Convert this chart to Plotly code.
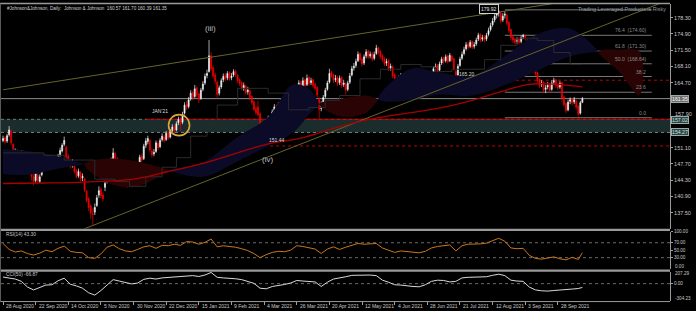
import plotly.graph_objects as go

W, H = 696, 311

# ---------------- price data (daily bars, index 0 = 28 Aug 2020) ----------------
opens = [152.6,153.2,152.5,153.8,154.6,151.8,149.4,150.4,149.6,148.4,
         150.2,149.0,148.4,147.3,146.2,145.0,144.2,145.4,144.0,145.4,
         146.8,147.2,148.6,149.2,147.8,147.4,148.9,147.8,149.6,150.4,
         151.8,151.2,149.3,148.2,147.4,147.8,146.3,145.2,145.9,144.8,
         144.6,142.0,140.4,138.9,137.3,137.6,139.0,141.2,142.4,141.2,
         142.8,144.0,146.4,147.6,148.4,149.8,148.8,147.0,146.6,145.8,
         146.0,144.4,143.6,144.2,143.5,144.3,146.3,147.8,149.3,148.8,
         151.6,152.4,152.6,150.4,149.8,150.3,152.0,151.3,152.8,153.3,
         152.8,154.3,153.3,154.7,155.6,154.8,156.3,157.2,156.4,158.3,
         160.2,159.7,161.3,162.6,161.8,163.6,162.3,161.4,163.3,164.6,
         166.2,167.0,170.3,167.8,166.3,164.8,162.5,163.8,165.3,166.2,
         165.7,166.8,165.7,166.3,167.1,166.2,165.3,164.7,163.4,164.0,
         162.8,163.0,161.8,160.7,159.3,159.6,158.2,156.3,154.0,153.4,
         156.7,157.3,156.6,158.8,159.8,158.7,160.3,160.8,159.7,160.3,
         159.3,160.8,161.3,160.3,161.3,163.7,164.8,163.7,165.3,164.3,
         165.8,164.7,165.3,164.3,163.7,161.4,159.3,160.3,161.8,163.3,
         164.8,166.8,166.3,165.3,165.8,164.7,165.8,164.3,164.4,163.3,
         164.8,166.3,167.8,168.3,169.3,170.8,169.7,168.8,170.3,171.3,
         170.3,170.8,169.8,170.8,172.0,171.2,170.3,169.7,168.8,169.3,
         167.8,168.0,166.3,165.4,164.8,165.8,166.3,165.3,164.3,165.3,
         164.8,165.3,164.3,163.3,164.3,163.8,164.8,164.3,165.3,164.8,
         166.3,165.3,167.8,168.3,167.3,168.8,169.8,169.3,170.3,169.3,
         170.2,169.7,167.0,166.3,168.3,169.8,170.8,171.8,172.8,172.3,
         173.3,172.3,172.8,173.8,174.8,173.8,174.3,173.8,174.8,175.8,
         176.8,177.8,178.8,179.3,179.3,177.8,178.8,178.8,177.3,175.8,
         174.3,173.8,173.3,173.8,173.3,174.3,174.4,173.6,171.8,170.3,
         168.8,167.8,166.8,165.3,164.3,164.8,163.3,163.8,164.3,163.3,
         164.8,165.3,164.3,163.8,164.7,161.7,160.3,159.0,160.8,161.3,
         160.7,160.9,159.8,158.3,160.57]
highs = [153.6,153.5,154.0,155.6,154.9,152.0,150.9,150.8,149.9,150.6,
         150.5,149.6,148.6,147.9,146.5,145.6,146.1,145.8,145.5,146.9,
         147.5,148.8,149.6,149.5,148.3,149.0,149.2,149.8,151.1,152.0,
         153.4,151.6,149.8,148.6,148.7,148.0,146.6,146.7,146.2,145.7,
         144.8,142.3,140.8,139.3,138.4,139.4,141.2,143.0,142.8,141.9,
         145.5,146.8,148.1,149.0,151.0,150.2,149.1,147.6,147.0,146.8,
         146.4,144.9,144.8,144.6,144.7,146.6,148.0,149.6,149.8,151.9,
         153.1,153.6,152.9,151.0,150.8,152.6,152.4,153.1,154.1,153.8,
         154.6,154.6,155.0,156.0,155.9,156.6,157.6,157.5,158.6,160.6,
         160.9,161.7,163.1,163.0,164.2,163.9,162.6,163.6,165.0,166.6,
         167.4,173.6,171.0,168.3,166.8,165.1,164.1,165.6,166.6,166.7,
         167.1,167.0,166.7,167.5,167.4,166.5,165.7,165.0,164.7,164.3,
         163.8,163.3,162.0,161.0,159.8,160.9,158.5,156.5,155.2,157.0,
         157.8,157.6,159.1,160.2,160.1,160.6,161.3,161.0,160.7,160.5,
         161.1,161.8,161.6,161.7,164.0,165.2,165.0,165.8,165.5,166.4,
         166.0,165.7,165.5,164.7,163.9,161.6,160.8,162.1,163.6,165.1,
         167.6,167.2,166.6,166.3,166.1,166.2,166.0,165.3,164.8,165.1,
         166.7,168.2,168.8,169.7,171.2,171.0,170.0,170.6,171.7,171.6,
         171.2,171.1,171.2,172.6,172.3,171.5,170.7,170.0,169.7,169.6,
         168.7,168.3,166.7,165.8,166.2,166.7,166.5,165.5,165.7,165.6,
         165.6,165.5,164.5,164.6,164.6,165.1,165.0,165.6,165.6,166.7,
         166.5,168.1,168.7,168.6,169.1,170.1,170.1,170.6,170.5,170.9,
         170.6,169.9,167.4,168.6,170.1,171.2,172.2,173.2,173.3,173.6,
         173.5,173.2,174.1,175.1,175.0,174.7,174.6,175.1,176.2,177.2,
         178.2,179.2,179.7,179.92,179.6,179.2,179.6,179.1,177.6,176.0,
         174.7,174.1,174.2,174.1,174.6,174.9,174.8,173.8,172.0,170.6,
         169.1,168.1,167.0,165.6,165.2,165.0,164.2,164.8,164.5,165.2,
         165.7,165.5,164.6,165.0,164.9,162.0,160.6,161.1,161.6,161.5,
         161.7,161.1,160.0,160.9,161.70]
lows = [152.2,151.8,152.1,153.4,151.6,148.8,148.9,149.0,147.9,148.1,
        148.7,147.8,146.6,146.1,144.2,143.2,143.8,143.6,143.7,145.1,
        146.5,146.9,148.0,147.6,146.4,147.1,147.2,147.5,149.2,150.1,
        151.4,148.5,147.6,146.7,146.9,145.6,144.6,144.8,144.0,144.1,
        141.8,139.6,137.8,136.2,134.8,137.0,138.7,140.6,140.5,139.8,
        142.0,143.6,145.9,147.0,148.0,148.1,146.8,145.8,145.2,145.2,
        144.1,142.7,143.0,142.8,143.0,144.0,145.9,147.4,148.0,148.5,
        151.0,151.8,150.2,149.0,149.3,150.0,150.6,151.0,152.4,152.1,
        152.5,152.7,153.0,154.3,154.1,154.5,155.8,154.6,156.0,158.0,
        158.9,159.3,160.9,161.0,161.5,161.6,160.4,161.1,162.9,164.2,
        165.6,166.8,167.1,165.6,164.3,161.4,162.0,163.4,164.8,165.0,
        165.2,165.1,165.2,165.9,165.9,164.6,164.0,163.1,163.0,162.1,
        162.2,161.1,160.0,158.7,157.9,157.6,155.6,153.4,151.44,152.8,
        156.1,155.9,156.3,158.4,158.0,158.4,159.8,159.1,159.2,158.7,
        159.0,160.3,159.7,159.9,161.0,163.3,163.0,163.4,163.6,164.0,
        164.0,164.2,163.6,163.0,161.6,157.2,158.7,160.0,161.4,163.0,
        164.5,165.6,164.6,164.8,164.0,164.2,163.6,163.8,162.2,162.9,
        164.4,166.0,167.2,167.8,169.0,169.0,168.1,168.4,169.8,169.6,
        169.8,169.1,169.4,170.5,170.5,169.6,169.0,168.1,168.2,167.1,
        167.2,165.6,165.0,164.1,164.4,165.2,164.7,163.6,163.9,164.1,
        164.3,163.6,162.2,162.8,163.1,163.4,163.6,164.0,164.1,164.5,
        164.7,165.0,167.2,166.7,167.0,168.4,168.6,168.9,168.7,169.0,
        169.0,167.2,165.2,166.0,168.0,169.4,170.4,171.4,171.6,171.9,
        171.7,171.8,172.4,173.4,173.1,173.3,173.1,173.4,174.4,175.4,
        176.4,177.3,178.1,178.5,177.1,177.4,178.1,176.6,175.1,173.6,
        173.0,172.6,172.8,172.6,172.9,173.8,173.5,171.1,169.6,168.1,
        167.1,166.1,164.6,163.6,163.8,162.6,162.5,163.3,162.6,163.0,
        164.3,163.6,163.1,163.4,160.8,159.6,158.3,158.7,160.2,159.9,
        160.2,159.1,157.2,158.0,160.39]
closes = [153.0,152.4,153.6,154.8,152.1,149.2,150.1,149.4,148.6,150.0,
          149.1,148.2,147.1,146.6,145.1,144.0,145.6,144.2,145.0,146.4,
          147.0,148.4,148.9,148.0,147.1,148.6,147.6,149.4,150.5,151.6,
          152.6,149.1,148.0,147.2,148.1,146.1,145.0,146.1,144.6,145.1,
          142.2,140.1,138.6,137.4,137.1,138.6,140.6,142.1,141.0,140.4,
          143.6,146.1,147.4,148.1,150.0,148.6,147.1,146.4,145.6,146.1,
          144.6,143.4,144.1,143.3,144.0,146.1,147.6,149.1,148.5,151.4,
          152.5,153.0,150.6,149.6,150.1,152.1,151.1,152.6,153.5,152.6,
          154.1,153.1,154.5,155.4,154.6,156.1,157.0,156.0,158.1,160.0,
          159.5,161.1,162.5,161.6,163.4,162.1,161.1,163.1,164.4,166.0,
          166.6,170.3,167.6,166.1,165.0,162.2,163.6,165.1,166.0,165.5,
          166.6,165.5,166.1,167.0,166.4,165.1,164.5,163.6,164.1,162.6,
          163.1,161.6,160.5,159.1,158.4,158.0,156.1,154.1,153.6,156.5,
          157.1,156.4,158.6,159.6,158.5,160.1,160.6,159.5,160.1,159.1,
          160.6,161.1,160.1,161.1,163.5,164.6,163.5,165.1,164.1,165.6,
          164.5,165.1,164.1,163.5,162.1,159.1,160.1,161.6,163.1,164.6,
          166.6,166.1,165.1,165.6,164.5,165.6,164.1,164.6,163.1,164.6,
          166.1,167.6,168.1,169.1,170.6,169.5,168.6,170.1,171.1,170.1,
          170.6,169.6,170.6,171.9,171.0,170.1,169.5,168.6,169.1,167.6,
          168.1,166.1,165.6,164.6,165.6,166.1,165.1,164.1,165.1,164.6,
          165.1,164.1,163.1,164.1,163.6,164.6,164.1,165.1,164.6,166.1,
          165.1,167.6,168.1,167.1,168.6,169.6,169.1,170.1,169.1,170.4,
          169.5,167.6,166.1,168.1,169.6,170.6,171.6,172.6,172.1,173.1,
          172.1,172.6,173.6,174.6,173.6,174.1,173.6,174.6,175.6,176.6,
          177.6,178.6,179.1,179.5,177.6,178.6,179.0,177.1,175.6,174.1,
          173.6,173.1,173.6,173.1,174.1,174.6,174.1,171.6,170.1,168.6,
          167.6,166.6,165.1,164.1,164.6,163.1,163.6,164.1,163.1,164.6,
          165.1,164.1,163.6,164.5,161.5,160.1,158.8,160.6,161.1,160.5,
          161.1,159.6,158.1,160.5,161.35]
bars = list(range(len(closes)))
doji_bars = [20]   # the one candle MT4 paints green (near-doji)

# date labels (every 16 bars)
date_bars = [0, 16, 32, 48, 64, 80, 96, 112, 128, 144, 160, 176, 192, 208, 224, 240, 256, 272]
date_labels = ["28 Aug 2020", "22 Sep 2020", "14 Oct 2020", "5 Nov 2020", "30 Nov 2020",
               "22 Dec 2020", "15 Jan 2021", "9 Feb 2021", "4 Mar 2021", "26 Mar 2021",
               "20 Apr 2021", "12 May 2021", "4 Jun 2021", "28 Jun 2021", "21 Jul 2021",
               "12 Aug 2021", "3 Sep 2021", "28 Sep 2021"]

price_ticks = [178.30, 174.90, 171.50, 168.10, 164.70, 151.10, 147.70, 144.30, 140.90, 137.50]
price_tick_shifted = 157.90   # drawn slightly above its level so it clears the 157.02 box

# long moving average (red curve)
ma_bars = [0, 20, 40, 64, 80, 97, 115, 129, 146, 165, 182, 195, 213, 230, 244, 257, 270, 284]
ma_vals = [143.6, 143.7, 143.9, 144.5, 146.0, 147.7, 150.0, 151.8, 153.1, 155.5, 157.2, 158.1,
           159.3, 161.0, 162.8, 164.3, 164.4, 163.8]

# Ichimoku cloud boundaries
cloud_bars = [0, 12, 26, 40, 52, 66, 82, 98, 114, 130, 142, 150, 155, 166, 178, 184, 200, 214,
              230, 246, 262, 278, 292, 302, 312]
span_a = [150.8, 150.4, 149.4, 147.6, 143.6, 143.0, 146.4, 148.0, 153.0, 157.5, 164.3, 163.4, 160.2,
          157.6, 158.4, 161.2, 167.6, 166.8, 166.2, 170.2, 174.8, 176.0, 171.2, 167.0, 162.0]
span_b = [145.6, 145.4, 146.6, 147.6, 148.8, 148.2, 146.4, 145.0, 148.0, 151.5, 154.2, 158.0, 160.2,
          161.4, 162.0, 161.2, 161.0, 162.2, 162.0, 164.2, 167.2, 170.2, 171.2, 171.6, 171.2]

# Kijun-sen style base line (thin dark step line)
kijun_bars = [0, 10, 20, 30, 40, 45, 55, 62, 70, 78, 85, 92, 100, 105, 115, 125, 130, 140, 150,
              158, 165, 175, 185, 195, 205, 212, 220, 228, 236, 244, 252, 262, 270, 278, 284]
kijun_vals = [150.0, 150.0, 149.5, 148.5, 148.5, 144.5, 144.0, 143.0, 145.0, 147.0, 149.0, 153.5,
              156.0, 160.0, 163.5, 163.5, 162.5, 159.0, 159.5, 161.0, 162.0, 165.5, 167.5, 168.5,
              168.0, 167.0, 167.5, 167.5, 169.5, 172.5, 174.0, 173.5, 171.0, 168.5, 168.5]

# trend lines (bar, price)
trend1_bars = [0, 290]
trend1_vals = [163.2, 182.6]
trend2_bars = [20, 330]
trend2_vals = [130.8, 182.6]

# horizontal levels
zone_top, zone_bottom = 157.02, 154.27
last_price = 161.35
red_levels = [157.02, 151.44, 165.20]
red_level_start = [70, 128, 222]
red_level_dash = ["solid", "dot", "dot"]

# fibonacci retracement
fib_high, fib_low = 179.92, 157.36
fib_levels = [100.0, 76.4, 61.8, 50.0, 38.2, 23.6, 0.0]
fib_start, fib_end = 246, 318

# RSI(14) and CCI(50) read every 3 bars
osc_bars = list(range(0, 285, 3)) + [284]
rsi_vals = [68, 52, 45, 48, 41, 37, 42, 50, 46, 55,
            61, 47, 44, 43, 30, 28, 40, 58, 64, 54,
            48, 46, 52, 59, 62, 55, 63, 62, 66, 63,
            73, 72, 66, 71, 80, 59, 62, 60, 58, 54,
            49, 41, 30, 38, 44, 47, 46, 50, 62, 60,
            57, 53, 41, 53, 59, 52, 58, 63, 68, 66,
            67, 68, 56, 50, 44, 48, 46, 44, 43, 47,
            56, 60, 63, 64, 48, 62, 66, 66, 67, 69,
            75, 82, 74, 56, 54, 55, 36, 28, 26, 29,
            32, 27, 24, 31, 25, 43.3]
cci_vals = [115, 100, 80, 40, -60, -110, -70, -25, -20, 50,
            95, -10, -40, -80, -160, -200, -120, -20, 70, 45,
            15, -5, 10, 75, 95, 80, 100, 110, 115, 120,
            130, 140, 125, 150, 195, 110, 100, 95, 85, 70,
            40, 5, -80, -90, -50, -35, -15, 10, 55, 45,
            40, 30, -50, 25, 80, 95, 120, 145, 150, 155,
            150, 140, 60, 25, -20, -25, -40, -50, -55, -20,
            40, 60, 55, 30, 40, 100, 110, 115, 112, 120,
            145, 165, 140, 60, 45, 40, -60, -110, -125, -130,
            -120, -115, -110, -95, -85, -66.87]

# ---------------- layout geometry (pixels) ----------------
px_left, px_right = 1, 670
bar0_px, bar_px = 3.0, 2.04
main_top, main_bot = 2, 228
rsi_top, rsi_bot = 231.05, 268.55
cci_top, cci_bot = 271.5, 301.0
pmax = 178.30 + (15.7 - main_top) / 4.811
pmin = 137.50 - (main_bot - 212.0) / 4.811

def py(v):
    return 1 - v / H

def pxp(v):
    return v / W

xr = [(px_left - bar0_px) / bar_px, (px_right - bar0_px) / bar_px]
xdom = [pxp(px_left), pxp(px_right)]

FONT = "Liberation Sans"
GRAY = "#9a9a9a"
TXT = "#c8c8c8"
NAVY = "rgb(11,11,40)"
MAROON = "rgb(42,4,4)"

fig = go.Figure()

# cloud polygons
groups, cur = [], [0]
for i in range(1, len(cloud_bars)):
    cur.append(i)
    if span_a[i] == span_b[i] and i != len(cloud_bars) - 1:
        groups.append(cur)
        cur = [i]
groups.append(cur)
for g in groups:
    diff = sum(span_a[i] - span_b[i] for i in g)
    xs = [cloud_bars[i] for i in g] + [cloud_bars[i] for i in reversed(g)]
    ys = [span_a[i] for i in g] + [span_b[i] for i in reversed(g)]
    fig.add_trace(go.Scatter(x=xs, y=ys, fill="toself", mode="lines",
                             line=dict(width=0, shape="spline"),
                             fillcolor=NAVY if diff > 0 else MAROON,
                             hoverinfo="skip", showlegend=False, xaxis="x", yaxis="y"))

# kijun line
fig.add_trace(go.Scatter(x=kijun_bars, y=kijun_vals, mode="lines",
                         line=dict(color="#2b2b2b", width=1, shape="hv"),
                         hoverinfo="skip", showlegend=False, xaxis="x", yaxis="y"))

# trend lines
for tb, tv in [(trend1_bars, trend1_vals), (trend2_bars, trend2_vals)]:
    fig.add_trace(go.Scatter(x=tb, y=tv, mode="lines", line=dict(color="#66642a", width=1),
                             hoverinfo="skip", showlegend=False, xaxis="x", yaxis="y"))

# moving average
fig.add_trace(go.Scatter(x=ma_bars, y=ma_vals, mode="lines",
                         line=dict(color="#a80000", width=1.3, shape="spline"),
                         hoverinfo="skip", showlegend=False, xaxis="x", yaxis="y"))

# candles
fig.add_trace(go.Candlestick(x=bars, open=opens, high=highs, low=lows, close=closes,
                             increasing=dict(line=dict(color="#f0f0f0", width=0.7), fillcolor="#ffffff"),
                             decreasing=dict(line=dict(color="#ee0000", width=0.7), fillcolor="#ff0000"),
                             whiskerwidth=0, showlegend=False, hoverinfo="skip",
                             xaxis="x", yaxis="y"))
fig.add_trace(go.Candlestick(x=doji_bars, open=[opens[i] for i in doji_bars],
                             high=[highs[i] for i in doji_bars], low=[lows[i] for i in doji_bars],
                             close=[closes[i] for i in doji_bars],
                             increasing=dict(line=dict(color="#1fa01f", width=0.7), fillcolor="#22b022"),
                             decreasing=dict(line=dict(color="#1fa01f", width=0.7), fillcolor="#22b022"),
                             whiskerwidth=0, showlegend=False, hoverinfo="skip",
                             xaxis="x", yaxis="y"))

# yellow circle around Jan'21 breakout
fig.add_trace(go.Scatter(x=[86.3], y=[155.8], mode="markers",
                         marker=dict(symbol="circle-open", size=21,
                                     line=dict(color="#d9a83a", width=1.6), color="#d9a83a"),
                         hoverinfo="skip", showlegend=False, xaxis="x", yaxis="y"))

# RSI
fig.add_trace(go.Scatter(x=osc_bars, y=rsi_vals, mode="lines", line=dict(color="#c9781c", width=1),
                         hoverinfo="skip", showlegend=False, xaxis="x2", yaxis="y2"))
# CCI
fig.add_trace(go.Scatter(x=osc_bars, y=cci_vals, mode="lines", line=dict(color="#d8d8d8", width=1),
                         hoverinfo="skip", showlegend=False, xaxis="x3", yaxis="y3"))

shapes = []
# support zone
shapes.append(dict(type="rect", xref="x", yref="y", x0=xr[0], x1=xr[1], y0=zone_bottom, y1=zone_top,
                   fillcolor="rgb(27,44,44)", line=dict(width=0), layer="below"))
for lv in [zone_top, zone_bottom]:
    shapes.append(dict(type="line", xref="x", yref="y", x0=xr[0], x1=xr[1], y0=lv, y1=lv,
                       line=dict(color="#6f7f7f", width=1, dash="dot"), layer="below"))
# last price line
shapes.append(dict(type="line", xref="x", yref="y", x0=xr[0], x1=xr[1], y0=last_price, y1=last_price,
                   line=dict(color="#8c8c8c", width=1), layer="below"))
# red levels
for lv, st, ds in zip(red_levels, red_level_start, red_level_dash):
    shapes.append(dict(type="line", xref="x", yref="y", x0=st, x1=xr[1], y0=lv, y1=lv,
                       line=dict(color="#c00000", width=1, dash=ds), layer="below"))
# fib lines
for lvl in fib_levels:
    p = fib_low + (fib_high - fib_low) * lvl / 100
    shapes.append(dict(type="line", xref="x", yref="y", x0=fib_start, x1=fib_end, y0=p, y1=p,
                       line=dict(color="#777777", width=1), layer="below"))
# RSI / CCI level lines
for lv in [70, 30]:
    shapes.append(dict(type="line", xref="x2", yref="y2", x0=xr[0], x1=xr[1], y0=lv, y1=lv,
                       line=dict(color="#6a6a6a", width=1, dash="dot"), layer="below"))
shapes.append(dict(type="line", xref="x3", yref="y3", x0=xr[0], x1=xr[1], y0=0, y1=0,
                   line=dict(color="#6a6a6a", width=1, dash="dot"), layer="below"))
# panel borders
for yy, wd in [(1.5, 1.5), (229.3, 2.2), (270.3, 2.2), (301.5, 1)]:
    shapes.append(dict(type="line", xref="paper", yref="paper", x0=0, x1=pxp(px_right),
                       y0=py(yy), y1=py(yy), line=dict(color=GRAY, width=wd)))
shapes.append(dict(type="line", xref="paper", yref="paper", x0=pxp(0.5), x1=pxp(0.5),
                   y0=py(301.5), y1=py(1.5), line=dict(color="#5a5a5a", width=1)))

ann = []
def txt(x, y, s, xref="x", yref="y", size=5.5, color=TXT, xanchor="center", yanchor="middle", **kw):
    ann.append(dict(x=x, y=y, xref=xref, yref=yref, text=s, showarrow=False,
                    font=dict(family=FONT, size=size, color=color),
                    xanchor=xanchor, yanchor=yanchor, **kw))

txt(pxp(5), py(6.5), "#Johnson&Johnson, Daily:  Johnson & Johnson  160.57 161.70 160.39 161.35",
    xref="paper", yref="paper", size=4.6, xanchor="left", color="#d0d0d0")
txt(pxp(668), py(7.5), "Trading Leveraged Products is Risky", xref="paper", yref="paper",
    size=5.4, xanchor="right", color="#8e98a8")
txt(pxp(4), py(234.5), "RSI(14) 43.30", xref="paper", yref="paper", size=4.8, xanchor="left")
txt(pxp(4), py(274.5), "CCI(50) -66.87", xref="paper", yref="paper", size=4.8, xanchor="left")

txt(101.5, 176.0, "(iii)", size=8, color="#bdbdbd")
txt(129.5, 148.7, "(iv)", size=8, color="#bdbdbd")
txt(77, 157.7, "JAN'21", size=5, color="#d8d8d8", yanchor="bottom")
txt(129.5, 151.6, "151.44", size=5, color="#d8d8d8", xanchor="left", yanchor="bottom")
txt(222.5, 165.5, "165.20", size=5, color="#d8d8d8", xanchor="left", yanchor="bottom")
ann.append(dict(x=243, y=180.05, xref="x", yref="y", text="179.92", showarrow=False,
                font=dict(family=FONT, size=5, color="#e8e8e8"), xanchor="right", yanchor="middle",
                bordercolor="#d0d0d0", borderwidth=1, borderpad=1, bgcolor="#000000"))
for lvl in fib_levels[1:]:
    p = fib_low + (fib_high - fib_low) * lvl / 100
    s = f"{lvl:.1f}  ({p:.2f})" if lvl in (76.4, 61.8, 50.0) else f"{lvl:.1f}"
    txt(fib_end - 2, p, s, size=5, color="#8a8a8a", xanchor="right", yanchor="bottom")

# right-axis labels that sit next to boxes / panel edges
txt(pxp(px_right + 3), py(112.3), f"{price_tick_shifted:.2f}", xref="paper", yref="paper",
    size=5.5, xanchor="left")
txt(pxp(px_right + 3), py(266.6), "0.00", xref="paper", yref="paper", size=4.6, xanchor="left")
txt(pxp(px_right + 3), py(273.6), "207.29", xref="paper", yref="paper", size=4.6, xanchor="left")
txt(pxp(px_right + 3), py(298.0), "-304.23", xref="paper", yref="paper", size=4.6, xanchor="left")

# right-axis price boxes
for val, bg, fg in [(161.35, "#6e6e6e", "#ffffff"), (157.02, "#2a4444", "#cfe0e0"),
                    (154.27, "#2a4444", "#cfe0e0")]:
    ann.append(dict(x=pxp(px_right + 1), y=val, xref="paper", yref="y", text=f"{val:.2f}",
                    showarrow=False, font=dict(family=FONT, size=5.2, color=fg), xanchor="left",
                    yanchor="middle", bgcolor=bg, bordercolor="#9aa", borderwidth=1, borderpad=0,
                    yshift=-1 if val == 157.02 else 0))
# date labels
for b, s in zip(date_bars, date_labels):
    ann.append(dict(x=b, y=py(305.5), xref="x3", yref="paper", text=s, showarrow=False,
                    font=dict(family=FONT, size=5, color=TXT), xanchor="left", yanchor="middle",
                    xshift=1))

axis_common = dict(showgrid=False, zeroline=False)
fig.update_layout(
    width=W, height=H, margin=dict(l=0, r=0, t=0, b=0),
    paper_bgcolor="#000000", plot_bgcolor="#000000", showlegend=False,
    font=dict(family=FONT, color=TXT),
    xaxis=dict(domain=xdom, range=xr, anchor="y", visible=False, rangeslider=dict(visible=False),
               **axis_common),
    xaxis2=dict(domain=xdom, range=xr, anchor="y2", visible=False, matches="x", **axis_common),
    xaxis3=dict(domain=xdom, range=xr, anchor="y3", matches="x", showticklabels=False,
                ticks="outside", tickvals=date_bars, ticklen=3, tickcolor="#a0a0a0",
                showline=False, **axis_common),
    yaxis=dict(domain=[py(main_bot), py(main_top)], range=[pmin, pmax], side="right", anchor="x",
               tickvals=price_ticks, ticktext=[f"{v:.2f}" for v in price_ticks],
               ticks="outside", ticklen=2, tickcolor="#a0a0a0",
               tickfont=dict(family=FONT, size=5.5, color=TXT),
               showline=True, linecolor=GRAY, linewidth=1, **axis_common),
    yaxis2=dict(domain=[py(rsi_bot), py(rsi_top)], range=[0, 100], side="right", anchor="x2",
                tickvals=[100, 70, 50, 30], ticktext=["100.00", "70.00", "50.00", "30.00"],
                ticks="outside", ticklen=2, tickcolor="#a0a0a0",
                tickfont=dict(family=FONT, size=4.6, color=TXT),
                showline=True, linecolor=GRAY, linewidth=1, **axis_common),
    yaxis3=dict(domain=[py(cci_bot), py(cci_top)], range=[-304.23, 207.29], side="right", anchor="x3",
                tickvals=[0], ticktext=["0.00"],
                ticks="outside", ticklen=2, tickcolor="#a0a0a0",
                tickfont=dict(family=FONT, size=4.6, color=TXT),
                showline=True, linecolor=GRAY, linewidth=1, **axis_common),
    shapes=shapes, annotations=ann,
)

fig.write_html("out.html")
